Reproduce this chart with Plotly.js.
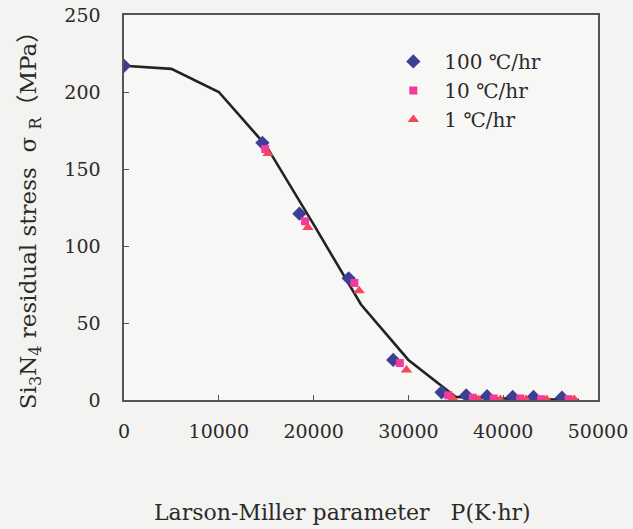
<!DOCTYPE html>
<html>
<head>
<meta charset="utf-8">
<script src="https://cdn.plot.ly/plotly-3.0.1.min.js"></script>
<style>
  html, body { margin: 0; padding: 0; background: #f3f3f1; }
  #chart { width: 633px; height: 529px; }
</style>
</head>
<body>
<div id="chart"></div>
<script>
// Larson-Miller parameter P (K·hr) vs. residual stress (MPa)
const fitP     = [0, 5000, 10000, 15000, 20000, 25000, 30000, 35000, 40000, 45000, 48000];
const fitSigma = [217, 215, 200, 165, 114, 62, 26, 2, 1, 0.5, 0];

// 100 ℃/hr cooling
const p100     = [0, 14600, 18500, 23700, 28400, 33500, 36100, 38300, 41000, 43200, 46200];
const sigma100 = [217, 167, 121, 79, 26, 5, 3, 2.5, 2, 2, 1.5];

// 10 ℃/hr cooling
const p10      = [14900, 19100, 24300, 29100, 34200, 36800, 39000, 41800, 44000, 46900];
const sigma10  = [163, 116, 76, 24, 3, 1.5, 1, 1, 0.5, 0.5];

// 1 ℃/hr cooling
const p1       = [15200, 19400, 24800, 29800, 34700, 37400, 39700, 42400, 44600, 47500];
const sigma1   = [160, 112, 71, 19.5, 1, 0.3, 0.3, 0.3, 0.3, 0.3];

const xTicks = [0, 10000, 20000, 30000, 40000, 50000];
const yTicks = [0, 50, 100, 150, 200, 250];

const xTitle = 'Larson-Miller parameter   P(K·hr)';
const yTitle = 'Si<sub>3</sub>N<sub>4</sub> residual stress  σ <sub>R</sub>（MPa）';

const serif = 'DejaVu Serif, Liberation Serif, Noto Sans CJK JP, serif';
const ink = '#2a2a2a';

const traces = [
  {
    x: fitP, y: fitSigma, mode: 'lines', showlegend: false, hoverinfo: 'skip',
    line: { color: '#222222', width: 2.6 }
  },
  {
    x: p100, y: sigma100, mode: 'markers', name: '100 ℃/hr',
    marker: { symbol: 'diamond', size: 11, color: '#3d3f95' }
  },
  {
    x: p10, y: sigma10, mode: 'markers', name: '10 ℃/hr',
    marker: { symbol: 'square', size: 8, color: '#f43a9c' }
  },
  {
    x: p1, y: sigma1, mode: 'markers', name: '1 ℃/hr',
    marker: { symbol: 'triangle-up', size: 10, color: '#f5455e' }
  }
];

const layout = {
  width: 633, height: 529,
  paper_bgcolor: '#f3f3f1',
  plot_bgcolor: '#f7f7f5',
  margin: { l: 124, r: 35, t: 15, b: 129 },
  font: { family: serif, size: 19, color: ink },
  showlegend: true,
  legend: {
    x: 0.545, y: 0.93, xanchor: 'left', yanchor: 'top',
    bgcolor: 'rgba(0,0,0,0)', borderwidth: 0,
    font: { family: serif, size: 20, color: ink },
    tracegroupgap: 0, itemwidth: 52
  },
  xaxis: {
    range: [0, 50000], tickvals: xTicks, ticktext: xTicks.map(String),
    showgrid: false, zeroline: false,
    showline: true, mirror: true, linecolor: '#555555', linewidth: 1.6,
    ticks: 'inside', ticklen: 5, tickcolor: '#555555',
    ticklabelstandoff: 14
  },
  yaxis: {
    range: [0, 250], tickvals: yTicks, ticktext: yTicks.map(String),
    showgrid: false, zeroline: false,
    showline: true, mirror: true, linecolor: '#555555', linewidth: 1.6,
    ticks: 'inside', ticklen: 5, tickcolor: '#555555',
    ticklabelstandoff: 18
  },
  annotations: [
    {
      text: xTitle, xref: 'paper', yref: 'paper', x: 0.46, y: 0,
      xanchor: 'center', yanchor: 'middle', yshift: -112, showarrow: false,
      font: { family: serif, size: 22, color: ink }
    },
    {
      text: yTitle, xref: 'paper', yref: 'paper', x: 0, y: 0.48,
      xanchor: 'center', yanchor: 'middle', xshift: -94, textangle: -90, showarrow: false,
      font: { family: serif, size: 23, color: ink }
    }
  ]
};

Plotly.newPlot('chart', traces, layout, { displayModeBar: false, staticPlot: true });
</script>
</body>
</html>
